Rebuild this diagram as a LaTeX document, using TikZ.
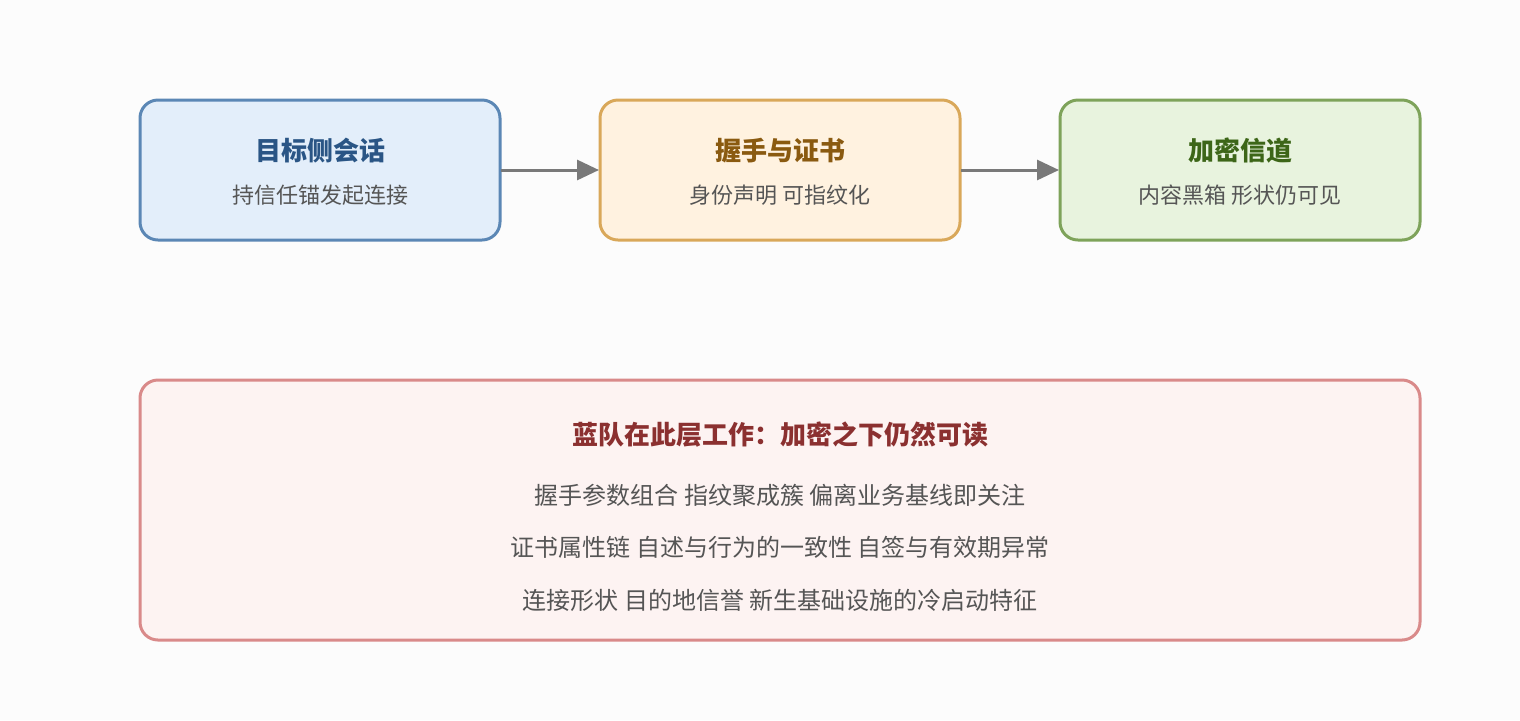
\documentclass[tikz,border=0pt]{standalone}
\usepackage{fontspec}
\setmainfont{Noto Sans CJK SC}
\usetikzlibrary{arrows.meta}
\definecolor{bgc}{HTML}{FCFCFC}
\definecolor{txt}{HTML}{555555}
\definecolor{bB}{HTML}{5B87B5}\definecolor{fB}{HTML}{E3EEFA}\definecolor{tB}{HTML}{2A5585}
\definecolor{bO}{HTML}{D9A85A}\definecolor{fO}{HTML}{FFF2E0}\definecolor{tO}{HTML}{8A5A10}
\definecolor{bG}{HTML}{7EA35A}\definecolor{fG}{HTML}{E8F3DE}\definecolor{tG}{HTML}{3D6618}
\definecolor{bR}{HTML}{D98A8A}\definecolor{fR}{HTML}{FDF3F2}\definecolor{tR}{HTML}{8B3030}
\tikzset{
 box/.style={rounded corners=9pt,line width=1.5pt},
 ttl/.style={font=\fontsize{13}{15}\selectfont\bfseries},
 sub/.style={font=\fontsize{11}{13}\selectfont,text=txt},
 ln/.style={font=\fontsize{12}{14}\selectfont,text=txt},
 arr/.style={draw=gray!95!black,line width=1.5pt,-{Triangle[length=11pt,width=10pt]}}
}
\begin{document}
\begin{tikzpicture}[x=0.5pt,y=-0.5pt]
\fill[bgc] (0,0) rectangle (1520,720);
\useasboundingbox (0,0) rectangle (1520,720);
\draw[box,draw=bB,fill=fB] (140,100) rectangle (500,240);
\coordinate (b1) at (320,170);
\draw[box,draw=bO,fill=fO] (600,100) rectangle (960,240);
\draw[box,draw=bG,fill=fG] (1060,100) rectangle (1420,240);
\draw[box,draw=bR,fill=fR] (140,380) rectangle (1420,640);
\node[ttl,text=tB] (t1) at (320,151) {目标侧会话};
\node[sub] (s1) at (320,195) {持信任锚发起连接};
\node[ttl,text=tO] (t2) at (780,151) {握手与证书};
\node[sub] (s2) at (780,195) {身份声明 可指纹化};
\node[ttl,text=tG] (t3) at (1240,151) {加密信道};
\node[sub] (s3) at (1240,195) {内容黑箱 形状仍可见};
\coordinate (a1s) at (501,170);\coordinate (a1e) at (599,170);
\coordinate (a2s) at (961,170);\coordinate (a2e) at (1059,170);
\draw[arr] (a1s) -- (a1e);
\draw[arr] (a2s) -- (a2e);
\node[ttl,text=tR] (t4) at (780,435) {蓝队在此层工作：加密之下仍然可读};
\node[ln] (l1) at (780,495) {握手参数组合 指纹聚成簇 偏离业务基线即关注};
\node[ln] (l2) at (780,547) {证书属性链 自述与行为的一致性 自签与有效期异常};
\node[ln] (l3) at (780,600) {连接形状 目的地信誉 新生基础设施的冷启动特征};
\end{tikzpicture}
\end{document}
